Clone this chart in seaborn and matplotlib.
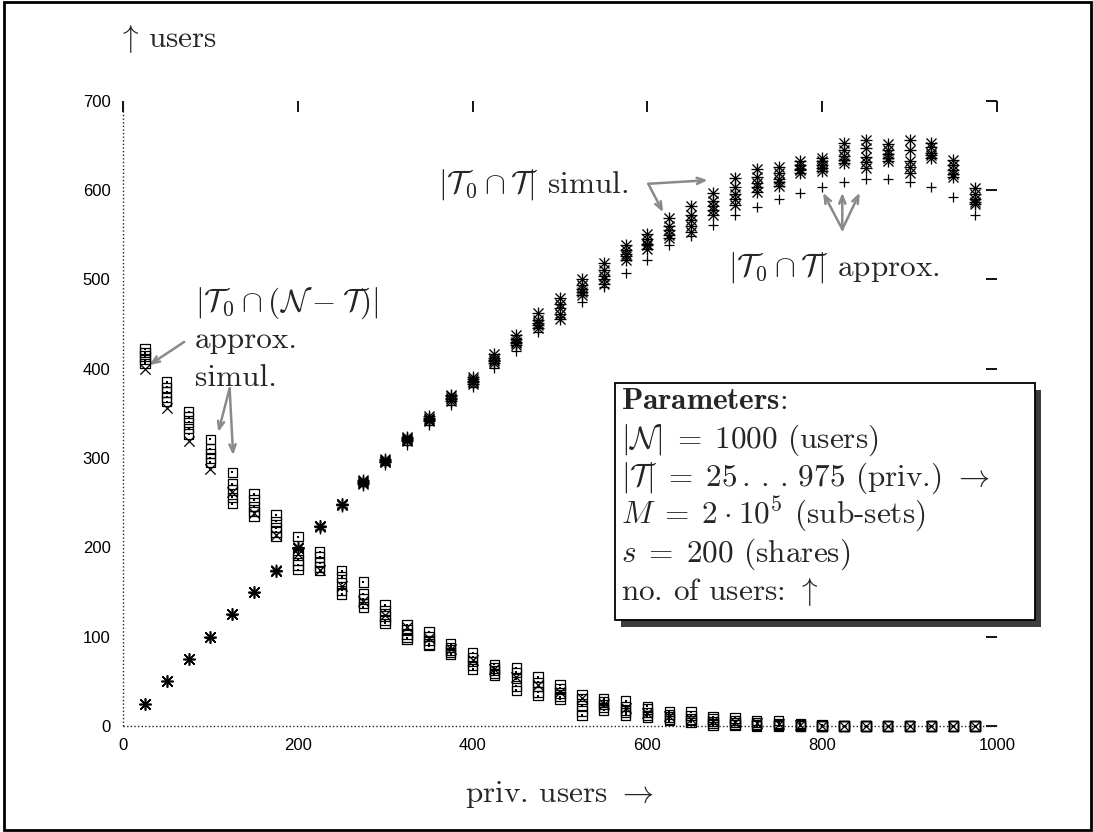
import numpy as np
import pandas as pd
import matplotlib
matplotlib.use("Agg")
import matplotlib.pyplot as plt
from matplotlib.patches import Rectangle
import seaborn as sns

# number of privileged users |T|
priv_users = [25, 50, 75, 100, 125, 150, 175, 200, 225, 250, 275, 300, 325,
              350, 375, 400, 425, 450, 475, 500, 525, 550, 575, 600, 625, 650,
              675, 700, 725, 750, 775, 800, 825, 850, 875, 900, 925, 950, 975]

# |T0 ∩ T|, analytic approximation
overlap_approx = [25, 50, 75, 99, 124, 149, 173, 197, 221, 245, 269, 292, 315,
                  337, 359, 379, 401, 420, 441, 458, 475, 491, 507, 522, 538, 549,
                  561, 572, 581, 590, 597, 603, 609, 612, 612, 609, 603, 592, 572]

# |T0 ∩ T|, simulation runs
overlap_sim_1 = [25, 50, 75, 100, 125, 150, 174, 199, 224, 247, 272, 295, 319,
                 341, 364, 383, 406, 426, 446, 456, 483, 495, 522, 534, 546, 553,
                 572, 583, 598, 605, 619, 621, 630, 625, 632, 619, 636, 615, 584]
overlap_sim_2 = [25, 50, 75, 100, 125, 150, 174, 199, 224, 248, 274, 297, 321,
                 344, 367, 386, 410, 430, 451, 468, 489, 504, 528, 540, 555, 566,
                 582, 595, 608, 612, 624, 628, 638, 637, 640, 632, 642, 622, 590]
overlap_sim_3 = [25, 50, 75, 100, 125, 150, 175, 200, 224, 249, 273, 299, 323,
                 347, 371, 391, 416, 438, 462, 479, 500, 518, 539, 551, 569, 582,
                 597, 613, 623, 626, 632, 636, 653, 656, 651, 656, 653, 634, 602]
overlap_sim_4 = [25, 50, 75, 100, 125, 150, 174, 199, 223, 248, 271, 296, 320,
                 343, 366, 388, 412, 433, 455, 472, 494, 510, 533, 545, 560, 572,
                 588, 603, 615, 619, 628, 632, 645, 647, 645, 645, 648, 628, 596]
overlap_sim_5 = [25, 50, 75, 100, 125, 150, 174, 199, 224, 247, 275, 298, 322,
                 345, 369, 385, 409, 429, 449, 461, 486, 500, 526, 538, 550, 560,
                 578, 590, 603, 609, 622, 625, 634, 631, 636, 626, 639, 618, 587]

# |T0 ∩ (N - T)|, analytic approximation
rest_approx = [400, 356, 319, 288, 262, 238, 214, 193, 175, 157, 140, 124, 111,
               98, 86, 74, 64, 55, 46, 38, 31, 25, 20, 15, 11, 8,
               6, 4, 3, 2, 1, 0, 0, 0, 0, 0, 0, 0, 0]

# |T0 ∩ (N - T)|, simulation runs
rest_sim_1 = [422, 385, 352, 321, 284, 260, 236, 212, 195, 174, 161, 136, 113,
              105, 92, 82, 69, 65, 55, 46, 35, 30, 28, 22, 16, 16,
              10, 9, 6, 6, 3, 1, 0, 0, 0, 0, 0, 0, 0]
rest_sim_2 = [418, 379, 346, 310, 271, 253, 229, 193, 189, 167, 148, 129, 108,
              100, 88, 77, 65, 60, 49, 42, 30, 27, 22, 19, 13, 12,
              8, 6, 4, 3, 2, 0, 0, 0, 0, 0, 0, 0, 0]
rest_sim_3 = [414, 374, 340, 305, 264, 246, 222, 186, 183, 160, 142, 123, 103,
              96, 85, 72, 62, 53, 44, 37, 23, 24, 18, 15, 10, 8,
              5, 4, 2, 2, 1, 0, 0, 0, 0, 0, 0, 0, 0]
rest_sim_4 = [410, 368, 333, 300, 256, 240, 217, 180, 178, 152, 137, 118, 99,
              92, 82, 68, 59, 45, 38, 33, 17, 21, 15, 12, 8, 6,
              3, 2, 1, 1, 0, 0, 0, 0, 0, 0, 0, 0, 0]
rest_sim_5 = [406, 363, 327, 295, 249, 235, 212, 175, 174, 148, 133, 115, 97,
              90, 80, 64, 57, 40, 34, 30, 12, 18, 12, 10, 6, 4,
              1, 1, 0, 0, 0, 0, 0, 0, 0, 0, 0, 0, 0]

x_ticks = [0, 200, 400, 600, 800, 1000]
y_ticks = [0, 100, 200, 300, 400, 500, 600, 700]

# long-form tables for seaborn
sim_overlap = pd.DataFrame({"priv": priv_users * 5,
                            "users": overlap_sim_1 + overlap_sim_2 + overlap_sim_3
                            + overlap_sim_4 + overlap_sim_5})
sim_rest = pd.DataFrame({"priv": priv_users * 5,
                         "users": rest_sim_1 + rest_sim_2 + rest_sim_3
                         + rest_sim_4 + rest_sim_5})
approx_overlap_df = pd.DataFrame({"priv": priv_users, "users": overlap_approx})
approx_rest_df = pd.DataFrame({"priv": priv_users, "users": rest_approx})

sns.set_style("white")
plt.rcParams["mathtext.fontset"] = "cm"
plt.rcParams["font.family"] = ["Liberation Sans", "DejaVu Sans"]
plt.rcParams["axes.unicode_minus"] = False

fig = plt.figure(figsize=(10.93, 8.32), dpi=100)
ax = fig.add_axes([123 / 1093, 106 / 832, 874 / 1093, 625.3 / 832])

ink = "black"
common = dict(ax=ax, x="priv", y="users", legend=False, clip_on=False, zorder=4)

# simulated |T0 ∩ (N - T)|: boxes with a centre dot
sns.scatterplot(data=sim_rest, marker="s", s=46, facecolor="none",
                edgecolor=ink, linewidth=0.9, **common)
sns.scatterplot(data=sim_rest, marker="s", s=2, color=ink, linewidth=0, **common)
# approximated |T0 ∩ (N - T)|
sns.scatterplot(data=approx_rest_df, marker="x", s=55, color=ink,
                linewidth=0.9, **common)
# simulated |T0 ∩ T|: star = plus + cross
sns.scatterplot(data=sim_overlap, marker="+", s=75, color=ink,
                linewidth=0.95, **common)
sns.scatterplot(data=sim_overlap, marker="x", s=52, color=ink,
                linewidth=0.95, **common)
# approximated |T0 ∩ T|
sns.scatterplot(data=approx_overlap_df, marker="+", s=60, color=ink,
                linewidth=0.9, **common)

ax.set_xlim(0, 1000)
ax.set_ylim(0, 700)
ax.set_xticks(x_ticks)
ax.set_yticks(y_ticks)
ax.set_xlabel("")
ax.set_ylabel("")
for sp in ax.spines.values():
    sp.set_visible(False)
ax.tick_params(direction="in", length=8, width=1.3, top=True, right=True,
               labelsize=12, pad=9, colors="black")

# dotted zero axes
dot = dict(color="#222222", lw=1.0, linestyle=(0, (1, 1.6)), zorder=1)
ax.plot([0, 1000], [0, 0], **dot, clip_on=False)
ax.plot([0, 0], [0, 700], **dot, clip_on=False)

serif = "cmr10"
tsize = 22.5
arrow_kw = dict(arrowstyle="->,head_length=0.55,head_width=0.22",
                color="#8a8a8a", lw=1.8, shrinkA=0, shrinkB=0)

# labels for the rising curve
ax.text(360, 597, r"$|\mathcal{T}_0\:{\cap}\:\mathcal{T}|$ simul.",
        fontfamily=serif, fontsize=tsize, ha="left", va="baseline")
for tip in [(669, 611), (618, 575)]:
    ax.annotate("", xy=tip, xytext=(601, 607), arrowprops=arrow_kw)

ax.text(692, 504, r"$|\mathcal{T}_0\:{\cap}\:\mathcal{T}|$ approx.",
        fontfamily=serif, fontsize=tsize, ha="left", va="baseline")
for tip in [(801, 597), (823, 597), (843, 597)]:
    ax.annotate("", xy=tip, xytext=(823, 556), arrowprops=arrow_kw)

# labels for the falling curve
ax.text(82, 465,
        r"$|\mathcal{T}_0\:{\cap}\:(\mathcal{N}\:{-}\:\mathcal{T})|$",
        fontfamily=serif, fontsize=tsize, ha="left", va="baseline")
ax.text(82, 423, "approx.", fontfamily=serif, fontsize=tsize, ha="left",
        va="baseline")
ax.text(82, 381, "simul.", fontfamily=serif, fontsize=tsize, ha="left",
        va="baseline")
ax.annotate("", xy=(30, 404), xytext=(70, 430), arrowprops=arrow_kw)
for tip in [(109, 329), (126, 303)]:
    ax.annotate("", xy=tip, xytext=(122, 378), arrowprops=arrow_kw)

# parameter box with drop shadow
bx0, by0, bx1, by1 = 0.5629, 0.1695, 1.0435, 0.5486
ax.add_patch(Rectangle((bx0 + 0.007, by0 - 0.0105), bx1 - bx0, by1 - by0,
                       transform=ax.transAxes, facecolor="#3c3c3c",
                       edgecolor="none", clip_on=False, zorder=6))
ax.add_patch(Rectangle((bx0, by0), bx1 - bx0, by1 - by0,
                       transform=ax.transAxes, facecolor="white",
                       edgecolor="black", lw=1.3, clip_on=False, zorder=7))
param_lines = [r"$\mathbf{Parameters}$:",
               r"$|\mathcal{N}|\;{=}\;1000$ (users)",
               r"$|\mathcal{T}|\;{=}\;25\,.\,.\,.\,975$ (priv.) $\rightarrow$",
               r"$M\;{=}\;2\:{\cdot}\:10^5$ (sub-sets)",
               r"$s\;{=}\;200$ (shares)",
               r"no. of users: $\uparrow$"]
for i, line in enumerate(param_lines):
    ax.text((621 - 123) / 874, (726 - 409 - 38.3 * i) / 625.3, line,
            transform=ax.transAxes, fontfamily=serif, fontsize=tsize,
            ha="left", va="baseline", zorder=8)

# axis captions
fig.text(117 / 1093, 1 - 47 / 832, r"$\uparrow\,$users", fontfamily=serif,
         fontsize=tsize, ha="left", va="baseline")
fig.text(560 / 1093, 1 - 802 / 832, r"priv. users $\rightarrow$",
         fontfamily=serif, fontsize=tsize, ha="center", va="baseline")

# outer frame
fig.add_artist(Rectangle((0.004, 0.002), 0.994, 0.995, transform=fig.transFigure,
                         facecolor="none", edgecolor="black", lw=2))

fig.savefig("out.png", dpi=100)
